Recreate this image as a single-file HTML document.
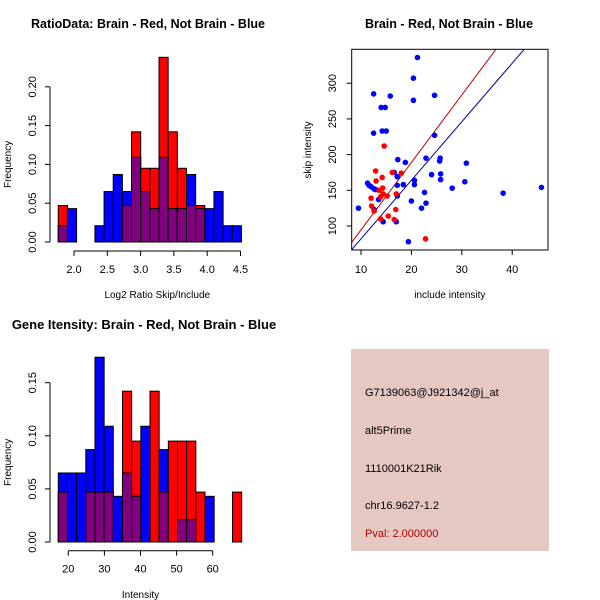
<!DOCTYPE html>
<html><head><meta charset="utf-8"><style>
body{margin:0;background:#fff;}
svg{display:block;font-family:"Liberation Sans",sans-serif;}
</style></head><body>
<svg id="c" width="600" height="600" xmlns="http://www.w3.org/2000/svg">
<rect width="600" height="600" fill="#fff"/>
<text x="148" y="28" font-size="12.5" font-weight="bold" text-anchor="middle">RatioData: Brain - Red, Not Brain - Blue</text>
<text x="449" y="28" font-size="12.5" font-weight="bold" text-anchor="middle">Brain - Red, Not Brain - Blue</text>
<text x="144" y="329" font-size="13" font-weight="bold" text-anchor="middle">Gene Itensity: Brain - Red, Not Brain - Blue</text>
<g id="p1"></g>
<g id="p2"></g>
<g id="p3"></g>
<g>
<rect x="351" y="349" width="198" height="202" fill="#E6C8C2"/>
<text x="365" y="396" font-size="11">G7139063@J921342@j_at</text>
<text x="365" y="434" font-size="11">alt5Prime</text>
<text x="365" y="472" font-size="11">1110001K21Rik</text>
<text x="365" y="509" font-size="11">chr16.9627-1.2</text>
<text x="365" y="537" font-size="11" fill="#B00000">Pval: 2.000000</text>
</g>
</svg>
<script>
const NS="http://www.w3.org/2000/svg";
// Ratio histogram data
const ratioRed=[.047,0,0,0,0,0,0,.047,.142,.095,.095,.238,.142,.095,.047,.047,0,0,0,0];
const ratioBlue=[.021,.043,0,0,.021,.065,.087,.065,.109,.065,.043,.109,.043,.043,.087,.043,.043,.065,.021,.021];
const ratioBinStart=1.764, ratioBinWidth=0.1375;
const ratioXTicks=[2.0,2.5,3.0,3.5,4.0,4.5];
const ratioYTicks=[0,0.05,0.10,0.15,0.20];
// Intensity histogram data
const intRed=[.047,0,0,.047,.047,.047,0,.142,.095,0,.142,.047,.095,.095,.095,.047,0,0,0,.047];
const intBlue=[.065,.065,.065,.087,.174,.109,.043,.065,.043,.109,0,.087,0,.021,.021,0,.043,0,0,0];
const intBinStart=17.23, intBinWidth=2.54;
const intXTicks=[20,30,40,50,60];
const intYTicks=[0,0.05,0.10,0.15];
// Scatter data
const blueX=[9.5,21.2,20.4,12.5,15.8,24.6,20.4,14.0,14.8,12.5,14.2,15.0,24.6,17.3,18.8,22.9,25.7,25.6,30.9,24.0,25.8,25.8,20.6,20.6,16.6,17.2,17.2,18.4,11.3,11.6,12.0,12.6,12.9,13.5,17.2,22.6,28.1,30.6,38.2,45.8,20.0,22.9,22.0,12.6,14.4,17.0,19.4];
const blueY=[125,336,307,285,282,283,276,266,266,230,233,233,227,193,189,195,195,191,188,172,173,165,164,158,175,169,157,158,160,157,155,152,151,137,142,147,153,162,146,154,135,132,125,123,106,106,78];
const redX=[12.9,13.0,14.6,14.2,14.3,13.6,14.4,13.9,15.2,17.0,16.2,18.0,12.0,12.1,12.6,13.9,15.4,16.6,16.9,22.8];
const redY=[177,163,212,168,153,150,145,141,142,145,175,174,139,128,121,110,114,109,123,82];
const redSlope=9.45, blueSlope=8.2;
const scatXTicks=[10,20,30,40];
const scatYTicks=[100,150,200,250,300];

function el(parent,tag,attrs,name,inter){const e=document.createElementNS(NS,tag);for(const k in attrs)e.setAttribute(k,attrs[k]);


parent.appendChild(e);return e;}

function hist(g,red,blue,start,w,sx,sy,xt,yt,xAxisY,xlabel,xlabelY,fmtY,fmtX){
  for(let i=0;i<red.length;i++){
    const x0=sx(start+i*w),x1=sx(start+(i+1)*w);
    const r=red[i],b=blue[i],m=Math.min(r,b);
    if(r>0) el(g,'rect',{x:x0,y:sy(r),width:x1-x0,height:sy(0)-sy(r),fill:'#FF0000',stroke:'#000','stroke-width':1},'red-bar','false');
    if(b>0) el(g,'rect',{x:x0,y:sy(b),width:x1-x0,height:sy(0)-sy(b),fill:'#0000FF',stroke:'#000','stroke-width':1},'blue-bar','false');
    if(m>0) el(g,'rect',{x:x0,y:sy(m),width:x1-x0,height:sy(0)-sy(m),fill:'#800080',stroke:'#000','stroke-width':1},'overlap-bar','false');
  }
  el(g,'line',{x1:sx(xt[0]),x2:sx(xt[xt.length-1]),y1:xAxisY,y2:xAxisY,stroke:'#000'},'x-axis','false');
  xt.forEach(t=>{el(g,'line',{x1:sx(t),x2:sx(t),y1:xAxisY,y2:xAxisY+5,stroke:'#000'},'x-tick','false');
    const tx=el(g,'text',{x:sx(t),y:xAxisY+22,'font-size':11,'text-anchor':'middle'},'x-tick-label','false');tx.textContent=fmtX(t);});
  el(g,'line',{x1:50,x2:50,y1:sy(yt[0]),y2:sy(yt[yt.length-1]),stroke:'#000'},'y-axis','false');
  yt.forEach(t=>{el(g,'line',{x1:45,x2:50,y1:sy(t),y2:sy(t),stroke:'#000'},'y-tick','false');
    const tx=el(g,'text',{x:36,y:sy(t),'font-size':11,'text-anchor':'middle',transform:`rotate(-90 36 ${sy(t)})`},'y-tick-label','false');tx.textContent=fmtY(t);});
  const xl=el(g,'text',{x:(sx(xt[0])+sx(xt[xt.length-1]))/2,y:xlabelY,'font-size':10,'text-anchor':'middle'},'x-axis-title','false');xl.textContent=xlabel;
  const cy=(sy(yt[0])+sy(yt[yt.length-1]))/2;
  const yl=el(g,'text',{x:11,y:cy,'font-size':10,'text-anchor':'middle',transform:`rotate(-90 11 ${cy})`},'y-axis-title','false');yl.textContent='Frequency';
}
// Panel 1
{const g=document.getElementById('p1');
 const sx=v=>74+(v-2.0)*66.6, sy=v=>242-v*776;
 hist(g,ratioRed,ratioBlue,ratioBinStart,ratioBinWidth,sx,sy,ratioXTicks,ratioYTicks,251,'Log2 Ratio Skip/Include',298,t=>t.toFixed(2),t=>t.toFixed(1));}
// Panel 3
{const g=document.getElementById('p3');
 const sx=v=>68.3+(v-20)*3.61, sy=v=>542-v*1062;
 hist(g,intRed,intBlue,intBinStart,intBinWidth,sx,sy,intXTicks,intYTicks,550.7,'Intensity',598,t=>t.toFixed(2),t=>String(t));}
// Panel 2
{const g=document.getElementById('p2');
 const sx=v=>361+(v-10)*5.04, sy=v=>226-(v-100)*0.714;
 const L=351.7,R=548,T=49.3,B=250;
 const cp=el(g,'clipPath',{id:'clip2'},'plot-clip','false');
 el(cp,'rect',{x:L,y:T,width:R-L,height:B-T},'clip-rect','false');
 const inner=el(g,'g',{'clip-path':'url(#clip2)'},'plot-area','false');
 const x0=8,x1=48;
 el(inner,'line',{x1:sx(x0),y1:sy(redSlope*x0),x2:sx(x1),y2:sy(redSlope*x1),stroke:'#C00000','stroke-width':1},'brain-fit-line','false');
 el(inner,'line',{x1:sx(x0),y1:sy(blueSlope*x0),x2:sx(x1),y2:sy(blueSlope*x1),stroke:'#00008B','stroke-width':1},'not-brain-fit-line','false');
 blueX.forEach((x,i)=>el(inner,'circle',{cx:sx(x),cy:sy(blueY[i]),r:2.8,fill:'#0000FF'},'blue-point','false'));
 redX.forEach((x,i)=>el(inner,'circle',{cx:sx(x),cy:sy(redY[i]),r:2.8,fill:'#FF0000'},'red-point','false'));
 el(g,'rect',{x:L,y:T,width:R-L,height:B-T,fill:'none',stroke:'#000'},'plot-box','false');
 scatXTicks.forEach(t=>{el(g,'line',{x1:sx(t),x2:sx(t),y1:B,y2:B+5,stroke:'#000'},'x-tick','false');
   const tx=el(g,'text',{x:sx(t),y:B+23,'font-size':11,'text-anchor':'middle'},'x-tick-label','false');tx.textContent=t;});
 scatYTicks.forEach(t=>{el(g,'line',{x1:L-5,x2:L,y1:sy(t),y2:sy(t),stroke:'#000'},'y-tick','false');
   const tx=el(g,'text',{x:336,y:sy(t),'font-size':11,'text-anchor':'middle',transform:`rotate(-90 336 ${sy(t)})`},'y-tick-label','false');tx.textContent=t;});
 const xl=el(g,'text',{x:(L+R)/2,y:298,'font-size':10,'text-anchor':'middle'},'x-axis-title','false');xl.textContent='include intensity';
 const yl=el(g,'text',{x:311,y:150,'font-size':10,'text-anchor':'middle',transform:'rotate(-90 311 150)'},'y-axis-title','false');yl.textContent='skip intensity';}
</script>
</body></html>
